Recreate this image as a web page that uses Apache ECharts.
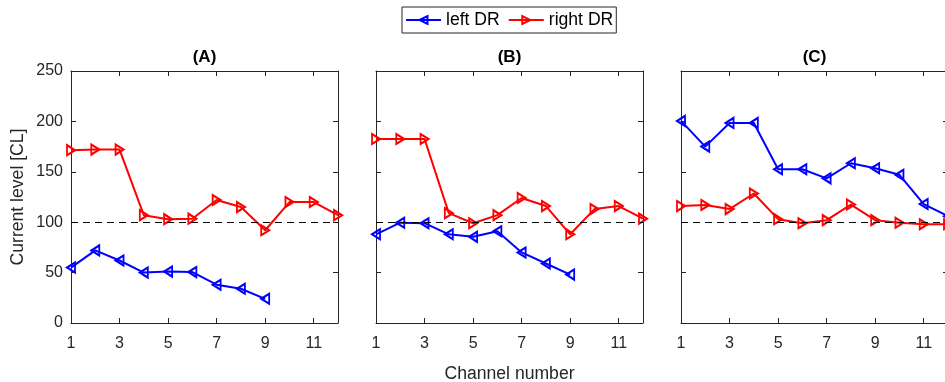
<!DOCTYPE html>
<html><head><meta charset="utf-8">
<script src="https://cdn.jsdelivr.net/npm/echarts@6/dist/echarts.min.js"></script>
<style>html,body{margin:0;padding:0;background:#fff}#c{width:945px;height:382px}</style>
</head><body><div id="c"></div>
<script>
const channels = [1,2,3,4,5,6,7,8,9,10,11,12];
const xTicks = [1,3,5,7,9,11];
const yTicks = [0,50,100,150,200,250];
const panelTitles = ['(A)','(B)','(C)'];
const refLevel = 100;
const leftA  = [55,72,62,50,51,50.5,38,34,24];
const rightA = [171.5,172,172,107,103,103.5,122,115,92,120,120,107];
const leftB  = [88,99.5,99,88,85.5,91,70,59,48];
const rightB = [182.5,182.5,182.5,109,99,107,124,116,88,113,116,103.5];
const leftC  = [200.5,175,198.5,198.5,152.5,152.5,143.5,158.5,153.5,147,118,106];
const rightC = [116,117,113,128.5,103,99,102,117.5,102,99.5,98,98];

const panels = [[leftA,rightA],[leftB,rightB],[leftC,rightC]];
const lefts = [71,376,681];
const W = 267, H = 252, TOP = 71;
const AX = '#262626';
const FONT = 'Liberation Sans';

const grids=[], xAxes=[], yAxes=[], series=[], titles=[];
panels.forEach((p,i)=>{
  grids.push({left:lefts[i], top:TOP, width:W, height:H, containLabel:false, outerBoundsMode:'none'});
  titles.push({text:panelTitles[i], left:lefts[i]+W/2, top:49, textAlign:'center', padding:0,
    textStyle:{fontFamily:FONT,fontSize:17,fontWeight:'bold',color:'#000'}});
  const tickCommon = {show:true, inside:true, length:5, lineStyle:{color:AX}, customValues:xTicks};
  xAxes.push({type:'value', gridIndex:i, min:1, max:12, position:'bottom',
    axisLine:{show:true,onZero:false,lineStyle:{color:AX,width:1}},
    axisTick:tickCommon,
    axisLabel:{customValues:xTicks, color:AX, fontFamily:FONT, fontSize:16, margin:13},
    splitLine:{show:false},
    name: i===1 ? 'Channel number' : '', nameLocation:'middle', nameGap:42,
    nameTextStyle:{fontFamily:FONT,fontSize:17.6,color:AX}});
  xAxes.push({type:'value', gridIndex:i, min:1, max:12, position:'top',
    axisLine:{show:true,onZero:false,lineStyle:{color:AX,width:1}},
    axisTick:tickCommon, axisLabel:{show:false}, splitLine:{show:false}});
  yAxes.push({type:'value', gridIndex:i, min:0, max:250, interval:50, position:'left',
    axisLine:{show:true,onZero:false,lineStyle:{color:AX,width:1}},
    axisTick:{show:true,inside:true,length:5,lineStyle:{color:AX}},
    axisLabel:{show:i===0, color:AX, fontFamily:FONT, fontSize:16, margin:8},
    splitLine:{show:false},
    name: i===0 ? 'Current level [CL]' : '', nameLocation:'middle', nameGap:44, nameRotate:90,
    nameTextStyle:{fontFamily:FONT,fontSize:17.6,color:AX}});
  yAxes.push({type:'value', gridIndex:i, min:0, max:250, interval:50, position:'right',
    axisLine:{show:true,onZero:false,lineStyle:{color:AX,width:1}},
    axisTick:{show:true,inside:true,length:5,lineStyle:{color:AX}},
    axisLabel:{show:false}, splitLine:{show:false}});
  const mk = (name, vals, color, rot, withRef) => ({
    name, type:'line', xAxisIndex:2*i, yAxisIndex:2*i,
    data: vals.map((v,k)=>[channels[k], v]),
    color: color,
    symbol:'triangle', symbolSize:[10,8], symbolRotate:rot, showSymbol:true,
    lineStyle:{color, width:2},
    itemStyle:{color:'rgba(255,255,255,0)', borderColor:color, borderWidth:2},
    emphasis:{disabled:true}, animation:false, z: withRef?3:4,
    markLine: withRef ? {silent:true, symbol:'none', label:{show:false},
      lineStyle:{color:'#000', type:[7,5], width:1}, data:[{yAxis:refLevel}]} : undefined
  });
  series.push(mk('right DR', p[1], '#ff0000', -90, true));
  series.push(mk('left DR', p[0], '#0000ff', 90, false));
});

const chart = echarts.init(document.getElementById('c'), null, {renderer:'canvas'});
chart.setOption({
  animation:false,
  title: titles,
  legend:{data:['left DR','right DR'], left:402, top:7, orient:'horizontal',
    borderColor:'#262626', borderWidth:1, padding:[4,3], itemGap:8, itemWidth:35, itemHeight:10,
    textStyle:{fontFamily:FONT,fontSize:17.6,color:'#000'}},
  grid: grids, xAxis: xAxes, yAxis: yAxes, series
});
</script></body></html>
